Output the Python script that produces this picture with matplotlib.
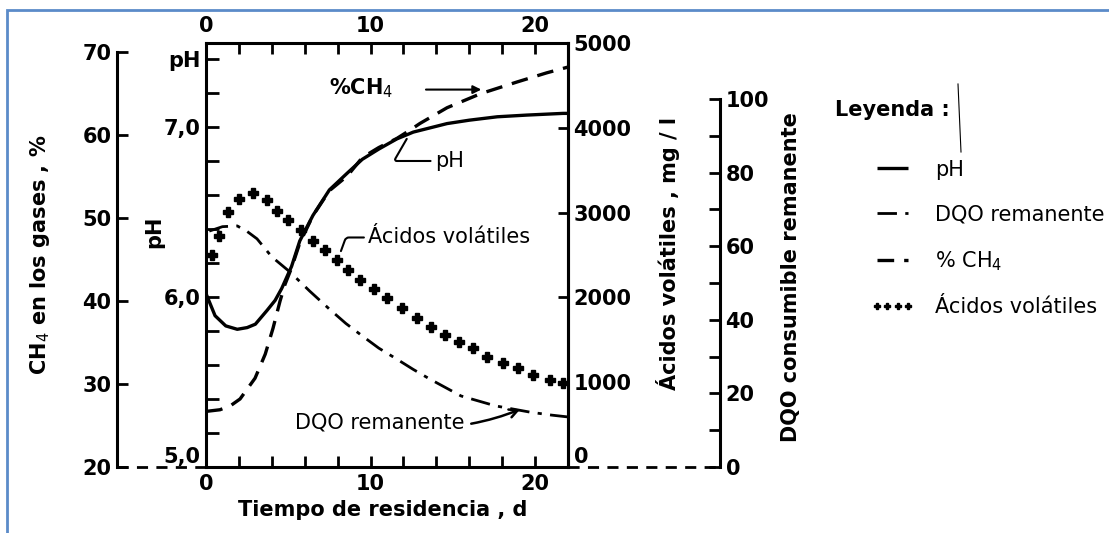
import matplotlib
matplotlib.use('Agg')
import matplotlib.pyplot as plt
from matplotlib.patches import Rectangle

# Tiempo de residencia (d) y curvas
dias_ph = [0, 0.55, 1.2, 1.9, 2.5, 3.0, 3.7, 4.2, 4.6, 5.2, 5.7, 6.5, 7.5, 8.6, 9.5, 10.5, 11.6, 12.6, 14.65, 16.0, 17.7, 19.5, 21.7, 22]
ph = [6.02, 5.89, 5.83, 5.81, 5.82, 5.84, 5.92, 5.98, 6.05, 6.18, 6.33, 6.48, 6.63, 6.73, 6.81, 6.87, 6.93, 6.97, 7.02, 7.04, 7.06, 7.07, 7.08, 7.08]

dias_ch4 = [0, 0.85, 1.5, 2.07, 2.98, 3.6, 4.07, 4.5, 4.8, 5.2, 5.7, 6.5, 7.5, 8.6, 9.5, 10.5, 11.6, 12.4, 13.0, 14.65, 16.7, 18.9, 20.7, 22]
ch4 = [26.7, 26.9, 27.4, 28.2, 30.7, 33.6, 36.7, 40.0, 42.0, 44.0, 47.0, 50.3, 53.3, 55.1, 57.3, 58.5, 59.6, 60.6, 61.4, 63.3, 65.0, 66.4, 67.5, 68.2]

dias_dqo = [0.2, 1.0, 1.9, 2.5, 3.1, 4.0, 5.1, 6.3, 7.5, 8.5, 9.5, 10.5, 11.6, 12.6, 13.6, 15.5, 17.6, 19.7, 21.0, 22]
dqo = [64.1, 65.3, 65.5, 64.0, 62.0, 57.1, 53.0, 47.8, 42.9, 39.0, 35.6, 32.3, 29.3, 26.5, 23.9, 19.3, 16.6, 14.9, 14.1, 13.6]

dias_acidos = [0.36, 0.79, 1.34, 2.01, 2.86, 3.71, 4.32, 4.98, 5.78, 6.5, 7.23, 7.96, 8.63, 9.36, 10.2,
               11.0, 11.9, 12.8, 13.7, 14.5, 15.4, 16.2, 17.1, 18.05, 18.97, 19.9, 20.9, 21.7]
acidos = [2500, 2724, 3007, 3160, 3231, 3149, 3019, 2913, 2795, 2665, 2559, 2441, 2323, 2205, 2099,
          1993, 1875, 1757, 1651, 1557, 1474, 1403, 1297, 1226, 1167, 1085, 1026, 991]

xticks = list(range(0, 23, 2))
xticklabels = ['0', '', '', '', '', '10', '', '', '', '', '20', '']
ph_ticks = [5.0, 5.2, 5.4, 5.6, 5.8, 6.0, 6.2, 6.4, 6.6, 6.8, 7.0, 7.2, 7.4]
ph_ticklabels = ['5,0', '', '', '', '', '6,0', '', '', '', '', '7,0', '', 'pH']
ch4_ticks = [20, 30, 40, 50, 60, 70]
acidos_ticks = [0, 1000, 2000, 3000, 4000, 5000]
dqo_ticks = [0, 10, 20, 30, 40, 50, 60, 70, 80, 90, 100]
dqo_ticklabels = ['0', '', '20', '', '40', '', '60', '', '80', '', '100']

plt.rcParams['font.family'] = ['DejaVu Sans']
W, H = 1109, 533
fig = plt.figure(figsize=(W / 100, H / 100), dpi=100)
ax = fig.add_axes([206 / W, 1 - 467 / H, 362 / W, 424 / H])

lw = 2.2
tick_font = dict(fontsize=15, fontweight='bold')

# pH (eje principal)
l_ph, = ax.plot(dias_ph, ph, color='k', lw=2.4, solid_capstyle='butt')
ax.set_xlim(0, 22)
ax.set_ylim(5.0, 7.494)
ax.set_xticks(xticks)
ax.set_xticklabels(xticklabels, **tick_font)
ax.set_yticks(ph_ticks)
ax.set_yticklabels(ph_ticklabels, **tick_font)
ax.tick_params(axis='x', direction='in', top=True, labeltop=True, length=8, width=2, pad=5)
ax.tick_params(axis='y', direction='in', length=9, width=2, pad=4)
for s in ax.spines.values():
    s.set_linewidth(lw)
ax.get_yticklabels()[0].set_verticalalignment('bottom')

# % CH4
ax_ch4 = ax.twinx()
l_ch4, = ax_ch4.plot(dias_ch4, ch4, color='k', lw=2.4, ls=(0, (5, 3)))
ax_ch4.set_ylim(20, 71.1)
ax_ch4.yaxis.tick_left()
ax_ch4.spines['left'].set_position(('axes', -0.2459))
ax_ch4.spines['left'].set_bounds(20, 70)
ax_ch4.spines['left'].set_linewidth(lw)
for k in ['right', 'top', 'bottom']:
    ax_ch4.spines[k].set_visible(False)
ax_ch4.set_yticks(ch4_ticks)
ax_ch4.set_yticklabels([str(t) for t in ch4_ticks], **tick_font)
ax_ch4.tick_params(axis='y', direction='in', length=8, width=2, pad=4)

# Acidos volatiles
ax_ac = ax.twinx()
l_ac, = ax_ac.plot(dias_acidos, acidos, ls='none', marker='P', ms=7.5, color='k')
ax_ac.set_ylim(0, 5000)
for k in ['left', 'top', 'bottom']:
    ax_ac.spines[k].set_visible(False)
ax_ac.spines['right'].set_linewidth(lw)
ax_ac.set_yticks(acidos_ticks)
ax_ac.set_yticklabels([str(t) for t in acidos_ticks], **tick_font)
ax_ac.tick_params(axis='y', direction='in', length=7, width=2, pad=4)
ax_ac.get_yticklabels()[0].set_verticalalignment('bottom')

# DQO consumible remanente
ax_dqo = ax.twinx()
l_dqo, = ax_dqo.plot(dias_dqo, dqo, color='k', lw=2.0, ls=(0, (7, 3, 1.5, 3)))
ax_dqo.set_ylim(0, 115.2)
ax_dqo.spines['right'].set_position(('axes', 1.42))
ax_dqo.spines['right'].set_bounds(0, 100)
ax_dqo.spines['right'].set_linewidth(lw)
for k in ['left', 'top', 'bottom']:
    ax_dqo.spines[k].set_visible(False)
ax_dqo.set_yticks(dqo_ticks)
ax_dqo.set_yticklabels(dqo_ticklabels, **tick_font)
ax_dqo.tick_params(axis='y', direction='in', length=8, width=2, pad=4)

# prolongaciones punteadas del eje inferior
ax.plot([-0.2459, 0], [0, 0], transform=ax.transAxes, clip_on=False, color='k', lw=2, ls=(0, (4, 3)))
ax.plot([1, 1.42], [0, 0], transform=ax.transAxes, clip_on=False, color='k', lw=2, ls=(0, (4, 3)))

# titulos de ejes
lab = dict(fontsize=15, fontweight='bold')
fig.text(40 / W, 1 - 255 / H, 'CH$_4$ en los gases , %', rotation=90, ha='center', va='center', **lab)
fig.text(154 / W, 1 - 232 / H, 'pH', rotation=90, ha='center', va='center', **lab)
fig.text(668 / W, 1 - 254 / H, 'Ácidos volátiles , mg / l', rotation=90, ha='center', va='center', **lab)
fig.text(791 / W, 1 - 277 / H, 'DQO consumible remanente', rotation=90, ha='center', va='center', **lab)
fig.text(383 / W, 1 - 510 / H, 'Tiempo de residencia , d', ha='center', va='center', **lab)

# anotaciones
ann = dict(fontsize=15)
ax.text(7.5, 7.23, '%CH$_4$', ha='left', va='center', fontweight='bold', **ann)
ax.annotate('', xy=(16.9, 7.22), xytext=(13.2, 7.22),
            arrowprops=dict(arrowstyle='-|>', lw=1.5, color='k', mutation_scale=12))
ax.annotate('pH', xy=(12.2, 6.93), xytext=(13.9, 6.8), ha='left', va='center', **ann,
            arrowprops=dict(arrowstyle='-', lw=1.5, color='k', shrinkA=1, shrinkB=0,
                            connectionstyle='angle,angleA=0,angleB=60,rad=3'))
ax.annotate('Ácidos volátiles', xy=(8.2, 6.27), xytext=(9.85, 6.35), ha='left', va='center', **ann,
            arrowprops=dict(arrowstyle='-', lw=1.5, color='k', shrinkA=1, shrinkB=0,
                            connectionstyle='angle,angleA=0,angleB=70,rad=3'))
ax.annotate('DQO remanente', xy=(19.1, 5.34), xytext=(5.4, 5.26), ha='left', va='center', **ann,
            arrowprops=dict(arrowstyle='->', lw=1.8, color='k', shrinkA=3, shrinkB=0,
                            connectionstyle='arc3,rad=0.15'))

# leyenda
fig.text(835 / W, 1 - 110 / H, 'Leyenda :', ha='left', va='center', fontsize=15, fontweight='bold')
fig.legend([l_ph, l_dqo, l_ch4, l_ac], ['pH', 'DQO remanente', '% CH$_4$', 'Ácidos volátiles'],
           loc='upper left', bbox_to_anchor=(852 / W, 1 - 141 / H), frameon=False,
           fontsize=15, handlelength=2.1, handletextpad=1.0, labelspacing=1.18,
           numpoints=4, markerscale=0.55)

# marcas del escaneo y marco azul
fig.add_artist(plt.Line2D([958 / W, 961 / W], [1 - 84 / H, 1 - 152 / H], color='k', lw=0.8))
fig.add_artist(Rectangle((7 / W, -0.1), 1.2, 1.1 - 10 / H, transform=fig.transFigure,
                         fill=False, edgecolor='#5b8bc9', lw=2))

fig.savefig('out.png', dpi=100)
